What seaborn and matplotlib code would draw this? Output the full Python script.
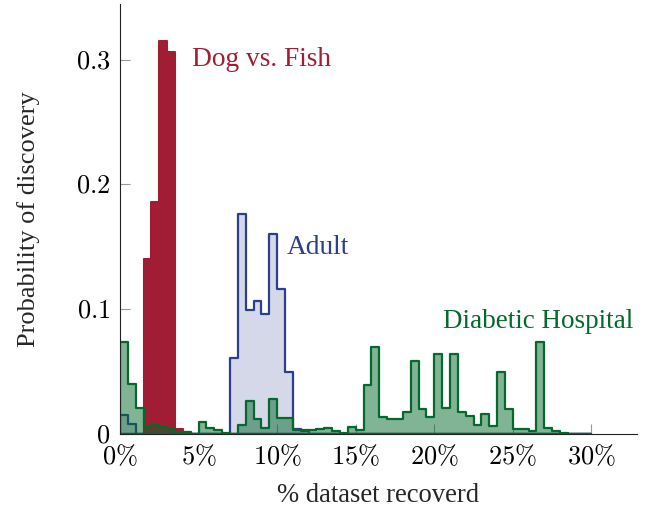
import numpy as np
import pandas as pd
import matplotlib
matplotlib.use("Agg")
import matplotlib.pyplot as plt
import seaborn as sns

# ---- data (probability per 0.5% bin, from 0% to 30%) ----
bin_edges = [i * 0.5 for i in range(61)]

dog_fish = [0.0] * 60
dog_fish_nonzero = {3: 0.140, 4: 0.186, 5: 0.315, 6: 0.306, 7: 0.004, 8: 0.002}

adult_nonzero = {0: 0.015, 1: 0.008, 14: 0.061, 15: 0.1765, 16: 0.099, 17: 0.1065,
                 18: 0.096, 19: 0.160, 20: 0.116, 21: 0.0496, 22: 0.0037, 23: 0.0027}

diabetic = [0.0735, 0.040, 0.021, 0.0053, 0.007, 0.006, 0.004, 0.002, 0.002, 0.0,
            0.0094, 0.005, 0.003, 0.001, 0.0, 0.007, 0.0265, 0.012, 0.005, 0.0284,
            0.0125, 0.013, 0.003, 0.003, 0.003, 0.0043, 0.005, 0.0025, 0.0005, 0.0059,
            0.003, 0.0389, 0.0697, 0.0134, 0.0118, 0.0122, 0.0175, 0.0587, 0.0199, 0.0134,
            0.0638, 0.0207, 0.0644, 0.018, 0.0147, 0.007, 0.0163, 0.0064, 0.0493, 0.0201,
            0.0037, 0.0037, 0.0027, 0.0738, 0.0046, 0.0027, 0.0011, 0.0, 0.0, 0.0]

x_ticks = [0, 5, 10, 15, 20, 25, 30]
x_tick_labels = [r"$0\%$", r"$5\%$", r"$10\%$", r"$15\%$", r"$20\%$", r"$25\%$", r"$30\%$"]
y_ticks = [0, 0.1, 0.2, 0.3]
y_tick_labels = [r"$0$", r"$0.1$", r"$0.2$", r"$0.3$"]

series_names = ["Dog vs. Fish", "Adult", "Diabetic Hospital"]

# ---- build tables ----
centers = [(bin_edges[i] + bin_edges[i + 1]) / 2 for i in range(60)]
dog_vals = [dog_fish_nonzero.get(i, dog_fish[i]) for i in range(60)]
adult_vals = [adult_nonzero.get(i, 0.0) for i in range(60)]
df = pd.DataFrame({"pct": centers * 3,
                   "prob": dog_vals + adult_vals + diabetic,
                   "dataset": [series_names[0]] * 60 + [series_names[1]] * 60 + [series_names[2]] * 60})

sns.set_style("ticks")
plt.rcParams["font.family"] = ["Liberation Serif", "DejaVu Serif"]
plt.rcParams["mathtext.fontset"] = "cm"

red = "#A11D33"
blue = "#2B3F8C"
green = "#05692D"

fig = plt.figure(figsize=(6.46, 5.08), dpi=100)
ax = fig.add_axes([120 / 646, 74 / 508, (637 - 120) / 646, (434 - 4) / 508])

styles = {
    "Dog vs. Fish": dict(facecolor=red, edgecolor=red, lw=1.5, z=1),
    "Adult": dict(facecolor=(0.169, 0.247, 0.549, 0.2), edgecolor=blue, lw=1.6, z=2),
    "Diabetic Hospital": dict(facecolor=(0.02, 0.41, 0.176, 0.5), edgecolor=green, lw=1.6, z=3),
}
for name in series_names:
    st = styles[name]
    sub = df[df["dataset"] == name]
    sns.histplot(data=sub, x="pct", weights="prob", bins=bin_edges, element="step",
                 fill=True, facecolor=st["facecolor"], edgecolor=st["edgecolor"],
                 linewidth=st["lw"], zorder=st["z"], ax=ax)

ax.set_xlim(0, 32.9)
ax.set_ylim(0, 0.3446)
ax.set_xticks(x_ticks)
ax.set_xticklabels(x_tick_labels)
ax.set_yticks(y_ticks)
ax.set_yticklabels(y_tick_labels)
ax.tick_params(axis="both", direction="in", length=7.5, width=0.8, color="#999999",
               labelsize=19, labelcolor="black")
ax.tick_params(axis="x", pad=7)
ax.tick_params(axis="y", pad=7)
sns.despine(ax=ax)
for s in ["left", "bottom"]:
    ax.spines[s].set_linewidth(0.8)
    ax.spines[s].set_color("#222222")
    ax.spines[s].set_zorder(5)

ax.set_xlabel("% dataset recoverd", fontsize=19.2, labelpad=10)
ax.set_ylabel("Probability of discovery", fontsize=19, labelpad=26)

ax.text(4.6, 0.300, "Dog vs. Fish", color=red, fontsize=19.7, va="center", ha="left")
ax.text(10.64, 0.1494, "Adult", color=blue, fontsize=19.7, va="center", ha="left")
ax.text(20.55, 0.090, "Diabetic Hospital", color=green, fontsize=19.5, va="center", ha="left")

fig.savefig("out.png", dpi=100)
